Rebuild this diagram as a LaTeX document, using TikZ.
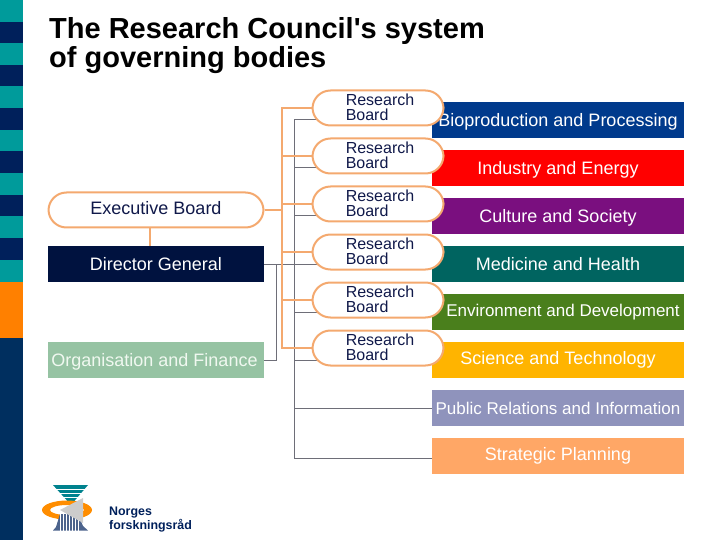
\documentclass[tikz,border=0pt]{standalone}
\usepackage{fontspec}
\setmainfont[Ligatures=TeXOff]{Liberation Sans}
\usetikzlibrary{backgrounds}

\definecolor{teal1}{HTML}{009B9B}
\definecolor{navy1}{HTML}{00205B}
\definecolor{navy2}{HTML}{002F5F}
\definecolor{orange1}{HTML}{FF8000}
\definecolor{oline}{HTML}{F4A96F}
\definecolor{gline}{HTML}{6E6E78}
\definecolor{ink}{HTML}{10194A}

\newcommand{\rbtext}{\hspace*{4pt}Research\\\hspace*{4pt}Board\rule[-2pt]{0pt}{2pt}}

\tikzset{
  unitbox/.style={minimum width=252pt, minimum height=36pt, inner sep=0pt, text=white, font=\fontsize{18}{20}\selectfont, text height=17pt, text depth=4pt},
  hightext/.style={text height=13pt, text depth=4pt},
  boardbox/.style={draw=oline, line width=2pt, fill=white, rounded corners=18pt, minimum height=35pt, inner sep=0pt, text=ink},
  rboard/.style={boardbox, minimum width=131pt, align=left, font=\fontsize{16}{15}\selectfont},
  orangeln/.style={draw=oline, line width=2pt},
  greyln/.style={draw=gline, line width=1pt}
}

\begin{document}
\begin{tikzpicture}[x=1pt,y=-1pt]
\useasboundingbox (0,0) rectangle (720,540);

% side bar
\fill[navy2] (0,338) rectangle (23,540);
\fill[orange1] (0,282) rectangle (23,338);
\fill[navy1] (0,0) rectangle (23,282);
\fill[teal1] (0,0) rectangle (23,22);
\fill[teal1] (0,43) rectangle (23,65);
\fill[teal1] (0,86) rectangle (23,108);
\fill[teal1] (0,130) rectangle (23,151);
\fill[teal1] (0,173) rectangle (23,195);
\fill[teal1] (0,216) rectangle (23,238);
\fill[teal1] (0,260) rectangle (23,282);

% title
\node (title) at (49,45.5) [anchor=west, align=left, inner sep=0pt, font=\fontsize{29}{29}\bfseries\selectfont] {The Research Council's system\\of governing bodies};

% units on the right
\node[unitbox, fill={rgb,255:red,0;green,58;blue,140}] (bio) at (558,120) {Bioproduction and Processing};
\node[unitbox, fill=red] (ind) at (558,168) {Industry and Energy};
\node[unitbox, fill={rgb,255:red,122;green,15;blue,127}] (cul) at (558,216) {Culture and Society};
\node[unitbox, fill={rgb,255:red,0;green,100;blue,96}] (med) at (558,264) {Medicine and Health};
\node[unitbox, hightext, fill={rgb,255:red,74;green,127;blue,28}, font=\fontsize{17}{20}\selectfont] (env) at (558,312) {\hspace*{10pt}Environment and Development};
\node[unitbox, hightext, fill={rgb,255:red,255;green,180;blue,0}] (sci) at (558,360) {Science and Technology};
\node[unitbox, fill={rgb,255:red,143;green,147;blue,188}, font=\fontsize{17}{20}\selectfont] (pub) at (558,408) {Public Relations and Information};
\node[unitbox, hightext, fill={rgb,255:red,255;green,167;blue,102}] (plan) at (558,456) {Strategic Planning};

% research boards
\node[rboard] (rb1) at (378,108) {\rbtext};
\node[rboard] (rb2) at (378,156) {\rbtext};
\node[rboard] (rb3) at (378,204) {\rbtext};
\node[rboard] (rb4) at (378,252) {\rbtext};
\node[rboard] (rb5) at (378,300) {\rbtext};
\node[rboard] (rb6) at (378,348) {\rbtext};

% left column
\node[boardbox, hightext, minimum width=215pt, font=\fontsize{18}{20}\selectfont] (exec) at (156,210) {Executive Board};
\node[unitbox, minimum width=216pt, fill={rgb,255:red,0;green,18;blue,63}] (dir) at (156,264) {Director General};
\node[unitbox, minimum width=216pt, fill={rgb,255:red,150;green,195;blue,163}, text={rgb,255:red,240;green,248;blue,240}] (org) at (156,360) {Organisation and Finance\hspace*{3pt}};

\coordinate (otrunk) at (282,210);
\coordinate (gtrunk) at (294,264);
\coordinate (ftrunk) at (276,264);

\begin{pgfonlayer}{background}
\draw[greyln] (dir.east) -- (gtrunk);
\draw[greyln] (org.east) -- (ftrunk |- org.east) -- (ftrunk);
\draw[greyln] (gtrunk |- bio.west) -- ([yshift=-2pt]gtrunk |- plan.west) -- ([yshift=-2pt]plan.west);
\draw[greyln] (gtrunk |- bio.west) -- (bio.west);
\draw[greyln] (gtrunk |- ind.west) -- (ind.west);
\draw[greyln] (gtrunk |- cul.west) -- (cul.west);
\draw[greyln] (gtrunk |- med.west) -- (med.west);
\draw[greyln] (gtrunk |- env.west) -- (env.west);
\draw[greyln] (gtrunk |- sci.west) -- (sci.west);
\draw[greyln] (gtrunk |- pub.west) -- (pub.west);
\draw[orangeln] (exec.east) -- (otrunk);
\draw[orangeln] (rb1.west) -- (otrunk |- rb1.west) -- (otrunk |- rb6.west) -- (rb6.west);
\draw[orangeln] (otrunk |- rb2.west) -- (rb2.west);
\draw[orangeln] (otrunk |- rb3.west) -- (rb3.west);
\draw[orangeln] (otrunk |- rb4.west) -- (rb4.west);
\draw[orangeln] (otrunk |- rb5.west) -- (rb5.west);
\draw[orangeln] (150,0 |- exec.south) -- (150,0 |- dir.north);
\end{pgfonlayer}

% logo
\fill[teal1!80!navy1] (53,485) -- (88,485) -- (71,505) -- cycle;
\draw[white, line width=0.8pt] (56,489) -- (85,489);
\draw[white, line width=0.8pt] (59,493) -- (82,493);
\draw[white, line width=0.8pt] (62,497) -- (79,497);
\draw[white, line width=0.8pt] (65,501) -- (76,501);
\fill[orange1!90!yellow, even odd rule] (67,510) ellipse (25pt and 9.5pt) (67,510) ellipse (17pt and 5pt);
\fill[navy1!70!white] (53,530.5) -- (56,527) -- (60,514) -- (78,514) -- (83,526) -- (88,530.5) -- cycle;
\draw[white, line width=0.7pt] (60,513) -- (60,531);
\draw[white, line width=0.7pt] (63,513) -- (63,531);
\draw[white, line width=0.7pt] (66,513) -- (66,531);
\draw[white, line width=0.7pt] (69,513) -- (69,531);
\draw[white, line width=0.7pt] (72,513) -- (72,531);
\draw[white, line width=0.7pt] (75,513) -- (75,531);
\draw[white, line width=0.7pt] (78,513) -- (78,531);
\fill[gray!40] (83,498) -- (60,510) -- (83,523) -- cycle;
\node (nf) at (109,520) [anchor=west, align=left, inner sep=0pt, text=navy1, font=\fontsize{12.4}{14}\bfseries\selectfont] {Norges\\forskningsråd};

\end{tikzpicture}
\end{document}
